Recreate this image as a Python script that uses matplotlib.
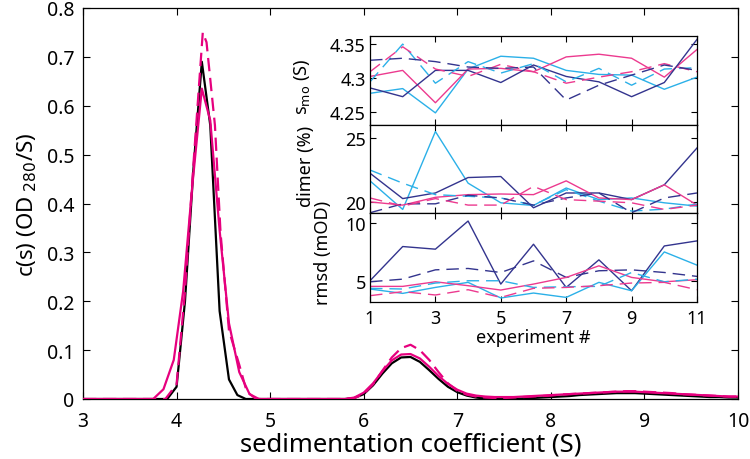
import matplotlib
matplotlib.use("Agg")
import matplotlib.pyplot as plt

plt.rcParams['font.family'] = ['Noto Sans', 'DejaVu Sans']

# ---------------- main c(s) data ----------------
s_tail = [5.8, 5.9, 6.0, 6.1, 6.2, 6.3, 6.4, 6.5, 6.6, 6.7, 6.8, 6.9, 7.0, 7.1, 7.2,
          7.3, 7.4, 7.5, 7.6, 7.7, 7.8, 7.9, 8.0, 8.1, 8.2, 8.3, 8.4, 8.5, 8.6, 8.7,
          8.8, 8.9, 9.0, 9.1, 9.2, 9.3, 9.4, 9.5, 9.6, 9.7, 9.8, 9.9, 10.0]

s_black_peak = [3.0, 3.9, 4.0, 4.09, 4.18, 4.27, 4.36, 4.46, 4.56, 4.65, 4.74, 5.0]
c_black_peak = [0, 0, 0.025, 0.20, 0.47, 0.69, 0.56, 0.18, 0.04, 0.008, 0, 0]
c_black_tail = [0, 0.002, 0.01, 0.028, 0.052, 0.073, 0.085, 0.086, 0.076, 0.059, 0.041,
                0.025, 0.014, 0.007, 0.003, 0.001, 0.0, 0.0, 0.0, 0.001, 0.002, 0.003,
                0.004, 0.005, 0.006, 0.008, 0.009, 0.010, 0.011, 0.012, 0.012, 0.012,
                0.011, 0.010, 0.009, 0.008, 0.007, 0.006, 0.005, 0.004, 0.004, 0.003, 0.003]

s_mag_peak = [3.0, 3.75, 3.86, 3.97, 4.07, 4.17, 4.27, 4.36, 4.46, 4.56, 4.67, 4.78, 4.88, 5.0]
c_mag_peak = [0, 0, 0.02, 0.08, 0.22, 0.44, 0.635, 0.57, 0.345, 0.155, 0.055, 0.01, 0, 0]
c_mag_tail = [0, 0.003, 0.013, 0.032, 0.057, 0.079, 0.091, 0.092, 0.083, 0.066, 0.047,
              0.031, 0.019, 0.011, 0.007, 0.005, 0.004, 0.004, 0.004, 0.005, 0.006, 0.007,
              0.008, 0.009, 0.010, 0.011, 0.012, 0.013, 0.014, 0.015, 0.015, 0.015,
              0.014, 0.013, 0.012, 0.011, 0.010, 0.009, 0.008, 0.007, 0.006, 0.005, 0.005]

s_magd_peak = [3.0, 3.88, 4.0, 4.09, 4.18, 4.28, 4.32, 4.41, 4.47, 4.56, 4.67, 4.75, 4.85, 5.0]
c_magd_peak = [0, 0, 0.03, 0.22, 0.48, 0.75, 0.73, 0.56, 0.34, 0.14, 0.07, 0.015, 0, 0]
c_magd_tail = [0, 0.002, 0.010, 0.030, 0.058, 0.085, 0.104, 0.111, 0.100, 0.080, 0.055,
               0.032, 0.017, 0.009, 0.005, 0.003, 0.002, 0.002, 0.003, 0.004, 0.005, 0.006,
               0.007, 0.009, 0.010, 0.011, 0.012, 0.013, 0.014, 0.015, 0.016, 0.016,
               0.015, 0.014, 0.013, 0.012, 0.010, 0.009, 0.008, 0.007, 0.006, 0.005, 0.005]

# ---------------- inset data ----------------
experiment = [1, 2, 3, 4, 5, 6, 7, 8, 9, 10, 11]

smo_cyan = [4.277, 4.284, 4.248, 4.313, 4.332, 4.329, 4.311, 4.305, 4.304, 4.283, 4.301]
smo_pink = [4.302, 4.311, 4.263, 4.313, 4.314, 4.309, 4.331, 4.335, 4.329, 4.301, 4.342]
smo_navy = [4.285, 4.272, 4.311, 4.311, 4.293, 4.319, 4.302, 4.294, 4.272, 4.293, 4.357]
smo_cyan_d = [4.294, 4.350, 4.292, 4.324, 4.307, 4.321, 4.294, 4.314, 4.289, 4.313, 4.315]
smo_pink_d = [4.309, 4.346, 4.313, 4.302, 4.320, 4.309, 4.292, 4.301, 4.309, 4.321, 4.309]
smo_navy_d = [4.326, 4.329, 4.324, 4.316, 4.314, 4.316, 4.267, 4.289, 4.304, 4.319, 4.311]

dim_cyan = [21.62, 19.38, 25.49, 21.44, 19.90, 19.69, 21.06, 20.15, 20.28, 19.90, 19.64]
dim_navy = [22.22, 20.23, 20.67, 21.88, 21.96, 19.51, 20.67, 20.67, 20.15, 21.31, 24.20]
dim_pink = [19.97, 19.72, 20.33, 20.54, 20.59, 20.54, 21.62, 20.28, 20.15, 21.31, 19.72]
dim_cyan_d = [22.47, 21.44, 20.54, 20.41, 20.28, 19.72, 20.93, 20.03, 19.25, 19.40, 19.80]
dim_navy_d = [19.12, 19.82, 19.82, 20.49, 20.28, 19.72, 20.28, 20.67, 19.12, 20.28, 20.67]
dim_pink_d = [20.28, 19.64, 20.23, 19.72, 19.72, 21.19, 20.15, 20.03, 19.90, 19.38, 19.72]

rms_navy = [5.00, 7.98, 7.75, 10.20, 4.71, 8.18, 4.42, 6.82, 4.13, 8.03, 8.47]
rms_navy_d = [4.91, 5.14, 5.95, 6.07, 5.72, 6.73, 5.29, 5.87, 5.95, 5.72, 5.38]
rms_cyan = [4.28, 3.90, 4.42, 4.86, 3.50, 3.93, 3.55, 4.86, 4.13, 7.51, 6.36]
rms_pink = [4.51, 4.51, 4.91, 4.57, 4.19, 4.71, 5.29, 6.30, 5.29, 4.91, 5.09]
rms_cyan_d = [4.34, 4.28, 4.80, 5.00, 5.00, 4.42, 4.48, 4.51, 5.72, 4.91, 5.14]
rms_pink_d = [3.70, 4.05, 3.76, 4.22, 3.55, 4.34, 4.42, 4.57, 4.80, 4.86, 4.22]

MAG = '#E6007E'
PINK = '#EC3A8F'
CYAN = '#2BB0E8'
NAVY = '#33348E'

fig = plt.figure(figsize=(7.5, 4.6), dpi=100)

# ---------------- main axes ----------------
ax = fig.add_axes([83/750, 1-400/460, (738-83)/750, (400-9)/460])
ax.plot(s_black_peak + s_tail, c_black_peak + c_black_tail, color='black', lw=1.6, zorder=3)
ax.plot(s_mag_peak + s_tail, c_mag_peak + c_mag_tail, color=MAG, lw=1.6, zorder=4)
ax.plot(s_magd_peak + s_tail, c_magd_peak + c_magd_tail, color=MAG, lw=1.6,
        dashes=(6, 3), zorder=4)
ax.set_xlim(3, 10)
ax.set_ylim(0, 0.8)
ax.set_xticks([3, 4, 5, 6, 7, 8, 9, 10])
ax.set_yticks([0, 0.1, 0.2, 0.3, 0.4, 0.5, 0.6, 0.7, 0.8])
ax.set_yticklabels(['0', '0.1', '0.2', '0.3', '0.4', '0.5', '0.6', '0.7', '0.8'])
ax.tick_params(direction='in', top=True, right=True, length=5, width=0.8,
               labelsize=14, pad=6)
ax.tick_params(axis='x', pad=9)
for sp in ax.spines.values():
    sp.set_linewidth(0.9)
ax.set_xlabel('sedimentation coefficient (S)', fontsize=18.5, labelpad=0)
ax.set_ylabel(r'c(s) (OD$_{\ 280}$/S)', fontsize=16, labelpad=6)

# ---------------- inset axes ----------------
L = 370/750
W = (697-370)/750
a1 = fig.add_axes([L, 1-126/460, W, 89/460])
a2 = fig.add_axes([L, 1-214/460, W, 88/460])
a3 = fig.add_axes([L, 1-303/460, W, 89/460])

ilw = 1.0
dsh = (9, 5)
a1.plot(experiment, smo_cyan, color=CYAN, lw=ilw)
a1.plot(experiment, smo_pink, color=PINK, lw=ilw)
a1.plot(experiment, smo_navy, color=NAVY, lw=ilw)
a1.plot(experiment, smo_cyan_d, color=CYAN, lw=ilw, dashes=dsh)
a1.plot(experiment, smo_pink_d, color=PINK, lw=ilw, dashes=dsh)
a1.plot(experiment, smo_navy_d, color=NAVY, lw=ilw, dashes=dsh)
a1.set_ylim(4.23, 4.362)
a1.set_yticks([4.25, 4.3, 4.35])
a1.set_yticklabels(['4.25', '4.3', '4.35'])

a2.plot(experiment, dim_cyan, color=CYAN, lw=ilw)
a2.plot(experiment, dim_navy, color=NAVY, lw=ilw)
a2.plot(experiment, dim_pink, color=PINK, lw=ilw)
a2.plot(experiment, dim_cyan_d, color=CYAN, lw=ilw, dashes=dsh)
a2.plot(experiment, dim_navy_d, color=NAVY, lw=ilw, dashes=dsh)
a2.plot(experiment, dim_pink_d, color=PINK, lw=ilw, dashes=dsh)
a2.set_ylim(19.1, 26.0)
a2.set_yticks([20, 25])

a3.plot(experiment, rms_navy, color=NAVY, lw=ilw)
a3.plot(experiment, rms_navy_d, color=NAVY, lw=ilw, dashes=dsh)
a3.plot(experiment, rms_cyan, color=CYAN, lw=ilw)
a3.plot(experiment, rms_pink, color=PINK, lw=ilw)
a3.plot(experiment, rms_cyan_d, color=CYAN, lw=ilw, dashes=dsh)
a3.plot(experiment, rms_pink_d, color=PINK, lw=ilw, dashes=dsh)
a3.set_ylim(3.15, 10.9)
a3.set_yticks([5, 10])

for a in (a1, a2, a3):
    a.set_xlim(1, 11)
    a.set_xticks([1, 3, 5, 7, 9, 11])
    a.tick_params(direction='in', top=True, right=True, length=4, width=0.8,
                  labelsize=13, pad=3)
    for sp in a.spines.values():
        sp.set_linewidth(0.9)
    a.set_facecolor('white')
for a in (a1, a2):
    a.tick_params(labelbottom=False)
a3.tick_params(axis='x', pad=5)
a3.set_xlabel('experiment #', fontsize=13, labelpad=1)

fig.text(302/750, 1-87/460, r's$_{\rm mo}$ (S)', rotation=90, fontsize=13,
         ha='center', va='center')
fig.text(306/750, 1-166/460, 'dimer (%)', rotation=90, fontsize=13,
         ha='center', va='center')
fig.text(323/750, 1-253/460, 'rmsd (mOD)', rotation=90, fontsize=13,
         ha='center', va='center')

fig.savefig('out.png', dpi=100)
